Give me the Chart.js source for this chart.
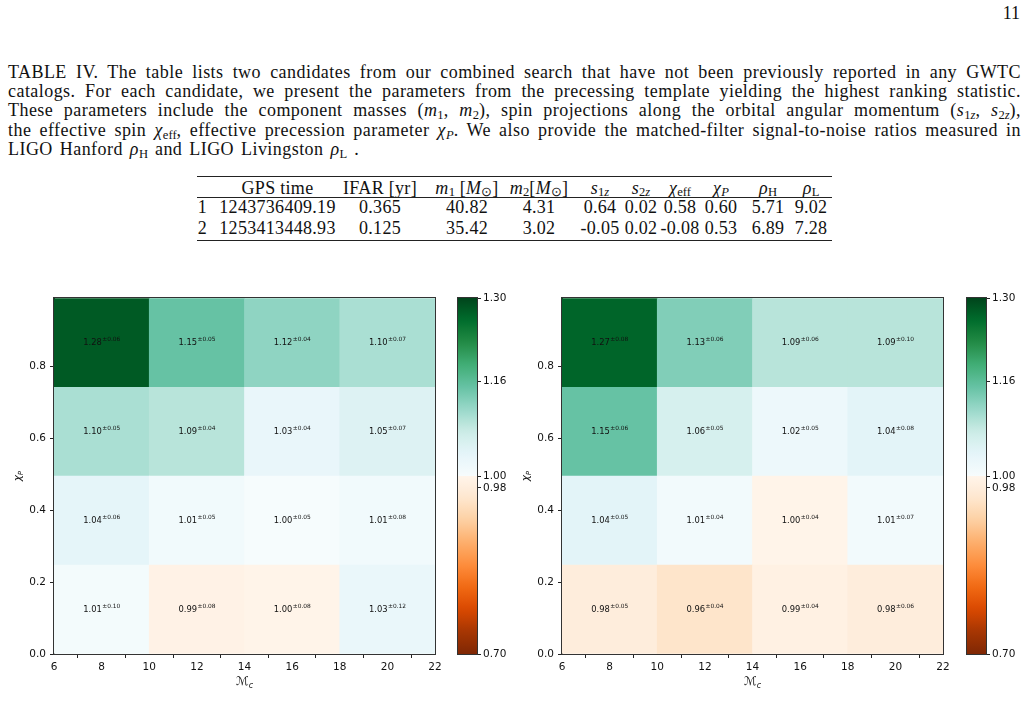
<!DOCTYPE html>
<html>
<head>
<meta charset="utf-8">
<script src="https://cdn.jsdelivr.net/npm/chart.js@4.4.0/dist/chart.umd.min.js"></script>
<style>
body { margin:0; background:#fff; width:1029px; height:722px; position:relative; overflow:hidden; font-family:'Liberation Serif', serif; color:#111; }
.pg { position:absolute; top:3px; right:9px; font-size:18px; line-height:20px; }
.cap { position:absolute; left:8px; top:62.5px; width:1013px; font-size:18px; letter-spacing:0.45px; line-height:19.45px; }
.cap div { text-align:justify; text-align-last:justify; }
.cap div.last { text-align-last:left; word-spacing:2px; }
sub { font-size:0.7em; line-height:0; vertical-align:-0.25em; letter-spacing:0; }
.rule { position:absolute; left:197px; width:635px; background:#222; }
.cell { position:absolute; transform:translateX(-50%); white-space:nowrap; font-size:18px; letter-spacing:0.3px; line-height:20px; }
.cell sub { vertical-align:-0.18em; }
canvas { position:absolute; }
</style>
</head>
<body>
<div class="pg">11</div>
<div class="cap">
  <div>TABLE IV. The table lists two candidates from our combined search that have not been previously reported in any GWTC</div>
  <div>catalogs. For each candidate, we present the parameters from the precessing template yielding the highest ranking statistic.</div>
  <div>These parameters include the component masses (<i>m</i><sub>1</sub>, <i>m</i><sub>2</sub>), spin projections along the orbital angular momentum (<i>s</i><sub>1<i>z</i></sub>, <i>s</i><sub>2<i>z</i></sub>),</div>
  <div>the effective spin <i>χ</i><sub>eff</sub>, effective precession parameter <i>χ<sub>P</sub></i>. We also provide the matched-filter signal-to-noise ratios measured in</div>
  <div class="last">LIGO Hanford <i>ρ</i><sub>H</sub> and LIGO Livingston <i>ρ</i><sub>L</sub> .</div>
</div>
<div id="tbl"></div>

<canvas id="heatA" width="450" height="410" style="left:0px; top:288px"></canvas>
<canvas id="barA" width="62" height="410" style="left:451px; top:288px"></canvas>
<canvas id="heatB" width="450" height="410" style="left:508px; top:288px"></canvas>
<canvas id="barB" width="62" height="410" style="left:960px; top:288px"></canvas>

<script>
// table of the two candidates
const tblCenters = [202.5, 277.5, 380, 467, 539, 600, 641, 680, 721, 768, 811];
const tblHead = ['', 'GPS time', 'IFAR [yr]', '<i>m</i><sub>1</sub> [<i>M</i><sub>⊙</sub>]', '<i>m</i><sub>2</sub>[<i>M</i><sub>⊙</sub>]',
  '<i>s</i><sub>1<i>z</i></sub>', '<i>s</i><sub>2<i>z</i></sub>', '<i>χ</i><sub>eff</sub>', '<i>χ<sub>P</sub></i>', '<i>ρ</i><sub>H</sub>', '<i>ρ</i><sub>L</sub>'];
const tblRow1 = ['1', '1243736409.19', '0.365', '40.82', '4.31', '0.64', '0.02', '0.58', '0.60', '5.71', '9.02'];
const tblRow2 = ['2', '1253413448.93', '0.125', '35.42', '3.02', '-0.05', '0.02', '-0.08', '0.53', '6.89', '7.28'];

// heatmap bins
const mcCats = ['6-10', '10-14', '14-18', '18-22'];
const mcTicks = [6, 8, 10, 12, 14, 16, 18, 20, 22];
const chiEdges = [0, 0.2475, 0.495, 0.7425, 0.99];
const chiTicks = [0, 0.2, 0.4, 0.6, 0.8];
const cbTicks = [0.70, 0.98, 1.00, 1.16, 1.30];

// rows: low chi_P -> high chi_P, columns follow mcCats
const ratioA = [
  [1.008, 0.993, 0.997, 1.028],
  [1.038, 1.012, 1.002, 1.012],
  [1.100, 1.090, 1.030, 1.050],
  [1.280, 1.150, 1.120, 1.100]
];
const errA = [
  [0.10, 0.08, 0.08, 0.12],
  [0.06, 0.05, 0.05, 0.08],
  [0.05, 0.04, 0.04, 0.07],
  [0.06, 0.05, 0.04, 0.07]
];
const ratioB = [
  [0.980, 0.960, 0.990, 0.980],
  [1.040, 1.010, 0.997, 1.010],
  [1.150, 1.060, 1.020, 1.040],
  [1.270, 1.130, 1.090, 1.090]
];
const errB = [
  [0.05, 0.04, 0.04, 0.06],
  [0.05, 0.04, 0.04, 0.07],
  [0.06, 0.05, 0.05, 0.08],
  [0.08, 0.06, 0.06, 0.10]
];

// table text
const tbl = document.getElementById('tbl');
function addRow(cells, top) {
  cells.forEach((t, i) => {
    const d = document.createElement('div');
    d.className = 'cell';
    d.style.left = tblCenters[i] + 'px';
    d.style.top = top + 'px';
    d.innerHTML = t;
    tbl.appendChild(d);
  });
}
addRow(tblHead, 177.5);
addRow(tblRow1, 196.8);
addRow(tblRow2, 217.6);
[[176, 1.4], [197, 0.9], [239.6, 1.4]].forEach(r => {
  const d = document.createElement('div');
  d.className = 'rule';
  d.style.top = r[0] + 'px';
  d.style.height = r[1] + 'px';
  tbl.appendChild(d);
});

// diverging colormap: Oranges below 1, BuGn above 1
const buGn = ['#f7fcfd', '#e5f5f9', '#ccece6', '#99d8c9', '#66c2a4', '#41ae76', '#238b45', '#006d2c', '#00441b'];
const oranges = ['#fff5eb', '#fee6ce', '#fdd0a2', '#fdae6b', '#fd8d3c', '#f16913', '#d94801', '#a63603', '#7f2704'];
const cbMin = cbTicks[0], cbMax = cbTicks[cbTicks.length - 1], cbMid = 1.0;
function hexRgb(h) { return [1, 3, 5].map(i => parseInt(h.substr(i, 2), 16)); }
function ramp(list, t) {
  t = Math.max(0, Math.min(1, t));
  const p = t * (list.length - 1);
  const i = Math.min(Math.floor(p), list.length - 2);
  const f = p - i;
  const a = hexRgb(list[i]), b = hexRgb(list[i + 1]);
  return 'rgb(' + a.map((v, k) => Math.round(v + (b[k] - v) * f)).join(',') + ')';
}
function cmap(v) {
  return v >= cbMid ? ramp(buGn, (v - cbMid) / (cbMax - cbMid)) : ramp(oranges, (cbMid - v) / (cbMid - cbMin));
}

const sans = '"DejaVu Sans", sans-serif';
const tickFont = { family: sans, size: 10.5 };
const axisGrid = { drawOnChartArea: false, tickLength: 4, color: '#222', tickColor: '#222' };

const frame = {
  id: 'frame',
  afterDraw(chart) {
    const { ctx, chartArea: a } = chart;
    ctx.save();
    ctx.strokeStyle = '#333';
    ctx.lineWidth = 1;
    ctx.strokeRect(Math.round(a.left) - 0.5, Math.round(a.top) - 0.5, Math.round(a.right - a.left) + 1, Math.round(a.bottom - a.top) + 1);
    ctx.restore();
  }
};

function cellText(vals, errs) {
  return {
    id: 'cellText',
    afterDatasetsDraw(chart) {
      const { ctx, scales: { x, y } } = chart;
      ctx.save();
      ctx.fillStyle = '#111';
      ctx.textAlign = 'left';
      ctx.textBaseline = 'alphabetic';
      vals.forEach((row, r) => row.forEach((v, c) => {
        const cx = x.getPixelForValue(c);
        const cy = y.getPixelForValue((chiEdges[r] + chiEdges[r + 1]) / 2);
        const main = v.toFixed(2), sup = '±' + errs[r][c].toFixed(2);
        ctx.font = '8.4px ' + sans;
        const w1 = ctx.measureText(main).width;
        ctx.font = '5.9px ' + sans;
        const w2 = ctx.measureText(sup).width;
        const x0 = cx - (w1 + w2) / 2;
        ctx.font = '8.4px ' + sans;
        ctx.fillText(main, x0, cy + 2.6);
        ctx.font = '5.9px ' + sans;
        ctx.fillText(sup, x0 + w1 + 0.3, cy - 1.5);
      }));
      ctx.restore();
    }
  };
}

// axis labels with subscripts
const titles = {
  id: 'titles',
  afterDraw(chart) {
    const { ctx, chartArea: a } = chart;
    ctx.save();
    ctx.fillStyle = '#111';
    ctx.textBaseline = 'alphabetic';
    ctx.textAlign = 'left';
    // x: script M with subscript c
    ctx.font = '12px ' + sans;
    const wm = ctx.measureText('ℳ').width;
    ctx.font = 'italic 8px ' + sans;
    const wc = ctx.measureText('c').width;
    const xs = (a.left + a.right) / 2 - (wm + wc) / 2;
    ctx.font = '12px ' + sans;
    ctx.fillText('ℳ', xs, a.bottom + 31);
    ctx.font = 'italic 8px ' + sans;
    ctx.fillText('c', xs + wm, a.bottom + 34);
    // y: chi with subscript P, rotated
    ctx.translate(18, (a.top + a.bottom) / 2);
    ctx.rotate(-Math.PI / 2);
    ctx.font = 'italic 10.5px ' + sans;
    const wx = ctx.measureText('χ').width;
    ctx.font = 'italic 7px ' + sans;
    const wp = ctx.measureText('P').width;
    ctx.font = 'italic 10.5px ' + sans;
    ctx.fillText('χ', -(wx + wp) / 2, 3);
    ctx.font = 'italic 7px ' + sans;
    ctx.fillText('P', -(wx + wp) / 2 + wx, 5);
    ctx.restore();
  }
};

function heatmap(id, vals, errs) {
  const datasets = vals.map((row, r) => ({
    data: row.map(() => [chiEdges[r], chiEdges[r + 1]]),
    backgroundColor: row.map(cmap),
    borderWidth: 0,
    barPercentage: 1,
    categoryPercentage: 1,
    grouped: false
  }));
  new Chart(document.getElementById(id), {
    type: 'bar',
    data: { labels: mcCats, datasets: datasets },
    options: {
      responsive: false,
      animation: false,
      layout: { padding: { top: 10, right: 15, left: 0, bottom: 0 } },
      plugins: { legend: { display: false }, tooltip: { enabled: false } },
      scales: {
        x: { display: false },
        mc: {
          type: 'linear', position: 'bottom', min: 6, max: 22, offset: false,
          afterBuildTicks: s => { s.ticks = mcTicks.map(v => ({ value: v })); },
          afterFit: s => { s.height = 44; },
          ticks: { font: tickFont, color: '#111', padding: 3, autoSkip: false, maxRotation: 0 },
          grid: axisGrid,
          border: { color: '#222' }
        },
        y: {
          min: 0, max: 0.99,
          afterBuildTicks: s => { s.ticks = chiTicks.map(v => ({ value: v })); },
          afterFit: s => { s.width = 54; },
          ticks: { font: tickFont, color: '#111', padding: 4, autoSkip: false, callback: v => v.toFixed(1) },
          grid: axisGrid,
          border: { color: '#222' }
        }
      }
    },
    plugins: [cellText(vals, errs), frame, titles]
  });
}

function cbFill(c) {
  const ch = c.chart;
  if (!ch.chartArea) return '#ffffff';
  const y = ch.scales.y;
  const g = ch.ctx.createLinearGradient(0, y.getPixelForValue(cbMin), 0, y.getPixelForValue(cbMax));
  const n = 60;
  for (let i = 0; i <= n; i++) {
    const v = cbMin + (cbMax - cbMin) * i / n;
    g.addColorStop(i / n, cmap(v));
  }
  g.addColorStop(0.4999, cmap(0.9999));
  return g;
}

function colorbar(id) {
  new Chart(document.getElementById(id), {
    type: 'bar',
    data: { labels: ['ratio'], datasets: [{ data: [[cbMin, cbMax]], backgroundColor: cbFill, borderWidth: 0, barPercentage: 1, categoryPercentage: 1 }] },
    options: {
      responsive: false,
      animation: false,
      layout: { padding: { left: 7, top: 10, right: 0, bottom: 44 } },
      plugins: { legend: { display: false }, tooltip: { enabled: false } },
      scales: {
        x: { display: false },
        y: {
          position: 'right', min: cbMin, max: cbMax,
          afterBuildTicks: s => { s.ticks = cbTicks.map(v => ({ value: v })); },
          afterFit: s => { s.width = 36; },
          ticks: { font: tickFont, color: '#111', padding: 2, autoSkip: false, callback: v => v.toFixed(2) },
          grid: axisGrid,
          border: { color: '#222' }
        }
      }
    },
    plugins: [frame]
  });
}

heatmap('heatA', ratioA, errA);
colorbar('barA');
heatmap('heatB', ratioB, errB);
colorbar('barB');
</script>
</body>
</html>
